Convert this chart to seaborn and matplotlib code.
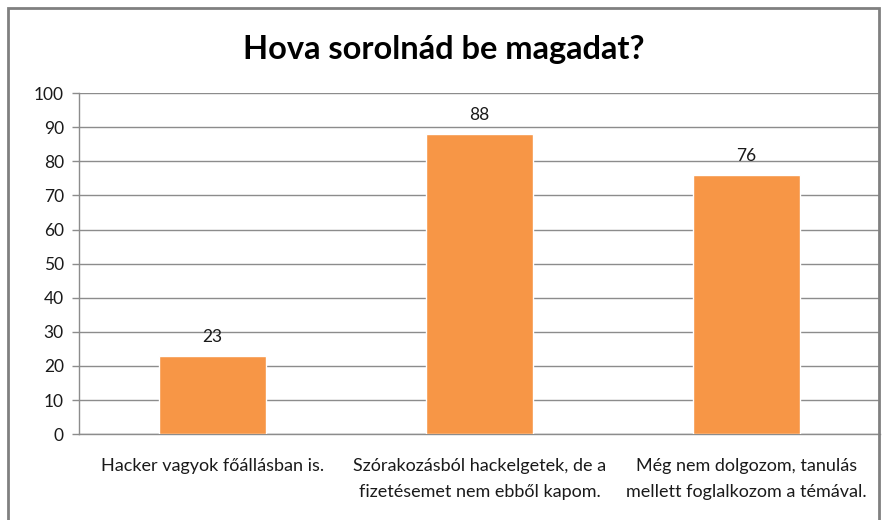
import matplotlib
matplotlib.use("Agg")
import matplotlib.pyplot as plt
import seaborn as sns
import pandas as pd
from matplotlib.patches import Rectangle

# ── DATA ──────────────────────────────────────────────────────────────────
categories = [
    "Hacker vagyok főállásban is.",
    "Szórakozásból hackelgetek, de a\nfizetésemet nem ebből kapom.",
    "Még nem dolgozom, tanulás\nmellett foglalkozom a témával.",
]
values = [23, 88, 76]
y_ticks = list(range(0, 101, 10))
title = "Hova sorolnád be magadat?"

BAR_COLOR = "#F79646"
GRID_COLOR = "#8C8C8C"
TEXT_COLOR = "#1A1A1A"

df = pd.DataFrame({"cat": categories, "val": values})

# ── STYLE ─────────────────────────────────────────────────────────────────
sns.set_theme(style="white")
plt.rcParams["font.family"] = ["Lato", "DejaVu Sans"]

fig = plt.figure(figsize=(8.88, 5.2), dpi=100)
ax = fig.add_axes([0.089, 0.165, 0.902, 0.656])

sns.barplot(data=df, x="cat", y="val", color=BAR_COLOR, saturation=1,
            width=0.4, ax=ax, zorder=3)

ax.set_ylim(0, 100)
ax.set_xlim(-0.5, len(categories) - 0.5)
ax.set_yticks(y_ticks)
ax.set_yticklabels([str(t) for t in y_ticks], fontsize=12.5, color=TEXT_COLOR)
ax.yaxis.grid(True, color=GRID_COLOR, linewidth=1, zorder=0)
ax.set_axisbelow(True)

# category labels centred, ticks on boundaries
ax.set_xticks(range(len(categories)))
ax.set_xticklabels(categories, fontsize=13, color=TEXT_COLOR, linespacing=1.75)
ax.tick_params(axis="x", length=0, pad=17)
ax.set_xticks([i - 0.5 for i in range(len(categories) + 1)], minor=True)
ax.tick_params(axis="x", which="minor", length=6, color=GRID_COLOR, width=1)
ax.tick_params(axis="y", length=5, color=GRID_COLOR, width=1, left=True, pad=6)
ax.set_xlabel("")
ax.set_ylabel("")

for s in ["top", "right"]:
    ax.spines[s].set_visible(False)
for s in ["left", "bottom"]:
    ax.spines[s].set_color(GRID_COLOR)
    ax.spines[s].set_linewidth(1)

for i, v in enumerate(values):
    ax.annotate(str(v), (i, v), xytext=(0, 8), textcoords="offset points",
                ha="center", va="bottom", fontsize=12.5, color=TEXT_COLOR)

fig.text(0.5, 0.905, title, ha="center", va="center",
         fontsize=23.5, fontweight="bold", color="black")

# chart border
fig.patches.append(Rectangle((0.009, -0.05), 0.981, 1.035, transform=fig.transFigure,
                             fill=False, edgecolor="#808080", linewidth=2))

fig.savefig("out.png", dpi=100)
